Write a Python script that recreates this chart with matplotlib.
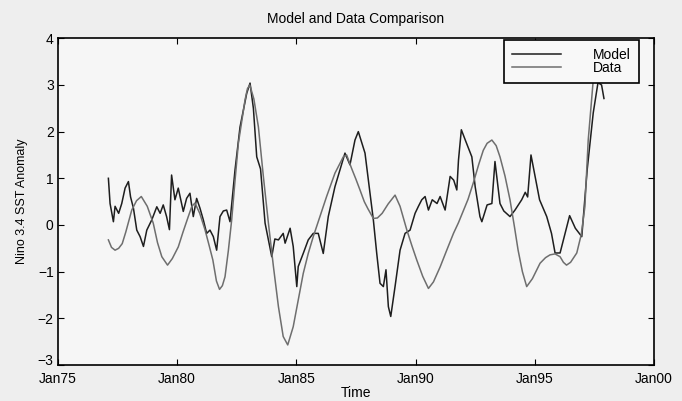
import numpy as np
import matplotlib
matplotlib.use('Agg')
import matplotlib.pyplot as plt
from matplotlib.transforms import ScaledTranslation

# observed Nino 3.4 anomaly (jagged line), decimal years
data_t = [1977.12, 1977.19, 1977.33, 1977.40, 1977.55, 1977.68, 1977.82, 1977.96, 1978.05,
          1978.17, 1978.31, 1978.45, 1978.59, 1978.73, 1978.94, 1979.15, 1979.29, 1979.42,
          1979.56, 1979.68, 1979.77, 1979.91, 1980.05, 1980.26, 1980.40, 1980.54, 1980.68,
          1980.82, 1980.96, 1981.10, 1981.24, 1981.38, 1981.52, 1981.66, 1981.80, 1981.94,
          1982.08, 1982.22, 1982.43, 1982.64, 1982.92, 1983.06, 1983.20, 1983.34, 1983.50,
          1983.69, 1983.97, 1984.10, 1984.25, 1984.45, 1984.53, 1984.74, 1984.87, 1985.02,
          1985.08, 1985.29, 1985.50, 1985.71, 1985.92, 1986.13, 1986.34, 1986.62, 1986.83,
          1987.04, 1987.25, 1987.46, 1987.60, 1987.88, 1988.09, 1988.23, 1988.37, 1988.51,
          1988.65, 1988.76, 1988.86, 1988.96, 1989.14, 1989.35, 1989.56, 1989.77, 1989.98,
          1990.12, 1990.26, 1990.40, 1990.54, 1990.70, 1990.90, 1991.03, 1991.24, 1991.45,
          1991.60, 1991.73, 1991.80, 1991.92, 1992.10, 1992.36, 1992.50, 1992.70, 1992.78,
          1993.00, 1993.20, 1993.33, 1993.54, 1993.70, 1993.96, 1994.17, 1994.45, 1994.60,
          1994.70, 1994.84, 1995.20, 1995.50, 1995.70, 1995.85, 1996.06, 1996.20, 1996.46,
          1996.70, 1996.97, 1997.20, 1997.45, 1997.65, 1997.80, 1997.90]
data_v = [1.00, 0.46, 0.07, 0.40, 0.25, 0.46, 0.79, 0.93, 0.60,
          0.36, -0.11, -0.25, -0.46, -0.11, 0.11, 0.39, 0.25, 0.43,
          0.18, -0.10, 1.07, 0.54, 0.79, 0.29, 0.57, 0.68, 0.18,
          0.57, 0.36, 0.11, -0.18, -0.11, -0.25, -0.54, 0.18, 0.30,
          0.32, 0.07, 1.18, 2.10, 2.82, 3.04, 2.50, 1.46, 1.20,
          0.04, -0.68, -0.30, -0.32, -0.18, -0.39, -0.07, -0.46, -1.32,
          -0.89, -0.61, -0.32, -0.18, -0.18, -0.61, 0.18, 0.82, 1.18,
          1.54, 1.29, 1.82, 2.00, 1.54, 0.68, 0.11, -0.60, -1.25,
          -1.32, -0.96, -1.75, -1.96, -1.32, -0.54, -0.18, -0.11, 0.25,
          0.40, 0.54, 0.61, 0.32, 0.54, 0.46, 0.61, 0.32, 1.04,
          0.96, 0.75, 1.39, 2.04, 1.80, 1.46, 0.82, 0.18, 0.07,
          0.43, 0.46, 1.36, 0.46, 0.30, 0.18, 0.32, 0.54, 0.70,
          0.60, 1.50, 0.54, 0.18, -0.18, -0.60, -0.60, -0.32, 0.20,
          -0.07, -0.25, 1.20, 2.40, 3.05, 3.00, 2.71]

# model anomaly (smooth line)
model_t = [1977.12, 1977.25, 1977.40, 1977.55, 1977.70, 1977.85, 1978.10, 1978.30, 1978.50,
           1978.75, 1979.00, 1979.18, 1979.36, 1979.60, 1979.80, 1980.05, 1980.25, 1980.47,
           1980.62, 1980.75, 1980.95, 1981.17, 1981.35, 1981.50, 1981.65, 1981.78, 1981.90,
           1982.01, 1982.15, 1982.29, 1982.43, 1982.57, 1982.85, 1982.95, 1983.05, 1983.22,
           1983.41, 1983.62, 1983.83, 1984.04, 1984.25, 1984.45, 1984.64, 1984.87, 1985.08,
           1985.29, 1985.50, 1985.71, 1985.99, 1986.27, 1986.62, 1986.97, 1987.11, 1987.32,
           1987.50, 1987.67, 1987.85, 1988.00, 1988.23, 1988.40, 1988.60, 1988.85, 1989.14,
           1989.35, 1989.63, 1989.85, 1990.05, 1990.30, 1990.54, 1990.75, 1991.03, 1991.30,
           1991.59, 1991.80, 1992.00, 1992.20, 1992.42, 1992.65, 1992.84, 1993.00, 1993.20,
           1993.38, 1993.54, 1993.75, 1993.96, 1994.15, 1994.30, 1994.48, 1994.66, 1994.90,
           1995.22, 1995.45, 1995.64, 1995.85, 1996.06, 1996.20, 1996.33, 1996.50, 1996.76,
           1996.95, 1997.10, 1997.24, 1997.45, 1997.65, 1997.90]
model_v = [-0.32, -0.48, -0.54, -0.50, -0.40, -0.15, 0.32, 0.52, 0.61,
           0.40, 0.04, -0.38, -0.68, -0.86, -0.72, -0.47, -0.15, 0.18,
           0.40, 0.47, 0.25, -0.10, -0.45, -0.75, -1.20, -1.38, -1.30,
           -1.11, -0.55, 0.11, 0.95, 1.75, 2.68, 2.92, 3.00, 2.70,
           2.10, 1.03, 0.04, -0.89, -1.75, -2.39, -2.57, -2.18, -1.61,
           -1.04, -0.61, -0.25, 0.18, 0.61, 1.11, 1.46, 1.50, 1.21,
           0.98, 0.75, 0.50, 0.35, 0.14, 0.15, 0.25, 0.45, 0.64,
           0.40, -0.10, -0.45, -0.75, -1.10, -1.36, -1.22, -0.90, -0.55,
           -0.18, 0.05, 0.30, 0.55, 0.90, 1.30, 1.60, 1.75, 1.82,
           1.70, 1.46, 1.05, 0.54, -0.05, -0.54, -1.00, -1.32, -1.15,
           -0.82, -0.70, -0.64, -0.62, -0.68, -0.80, -0.86, -0.80, -0.60,
           -0.20, 0.39, 1.82, 3.10, 3.40, 3.40]

tick_years = [1975, 1980, 1985, 1990, 1995, 2000]
tick_labels = ['Jan75', 'Jan80', 'Jan85', 'Jan90', 'Jan95', 'Jan00']
y_ticks = [-3, -2, -1, 0, 1, 2, 3, 4]

plt.rcParams['font.family'] = ['Liberation Sans', 'DejaVu Sans']

fig = plt.figure(figsize=(6.82, 4.01), dpi=100, facecolor='#eeeeee')
ax = fig.add_axes([0.0848, 0.0898, 0.8742, 0.8147], facecolor='#f6f6f6')

ax.plot(data_t, data_v, color='#1e1e1e', linewidth=1.1, label='Model')
ax.plot(model_t, model_v, color='#6e6e6e', linewidth=1.1, label='Data')

ax.set_xlim(1975, 2000)
ax.set_ylim(-3, 4)
ax.set_xticks(tick_years)
ax.set_xticklabels(tick_labels)
ax.set_yticks(y_ticks)
ax.tick_params(direction='in', top=True, right=True, length=4, labelsize=10)
ax.tick_params(axis='x', pad=5)
ax.tick_params(axis='y', pad=3)
for s in ax.spines.values():
    s.set_linewidth(1.2)

# lift the "-3" label a touch so it sits just above "Jan75"
lbl = ax.get_yticklabels()[0]
lbl.set_transform(lbl.get_transform() + ScaledTranslation(0, 4/72, fig.dpi_scale_trans))

ax.set_title('Model and Data Comparison', fontsize=10, pad=11)
ax.set_xlabel('Time', fontsize=10, labelpad=0)
ax.set_ylabel('Nino 3.4 SST Anomaly', fontsize=9, labelpad=7)

leg = ax.legend(loc='upper right', bbox_to_anchor=(0.975, 0.996), fancybox=False,
                edgecolor='black', framealpha=1, facecolor='#f8f8f8', fontsize=10,
                handlelength=3.5, handletextpad=2.3, labelspacing=-0.1,
                borderpad=0.6, borderaxespad=0)
leg.get_frame().set_linewidth(1.2)

fig.savefig('out.png', dpi=100, facecolor=fig.get_facecolor())
